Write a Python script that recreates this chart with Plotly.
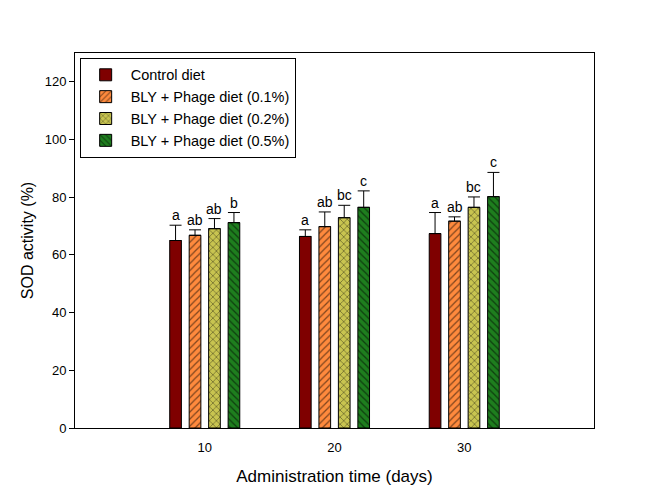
import plotly.graph_objects as go

days = [10, 20, 30]
series_names = ["Control diet", "BLY + Phage diet (0.1%)", "BLY + Phage diet (0.2%)", "BLY + Phage diet (0.5%)"]
control = [65.0, 66.4, 67.4]
bly_01 = [66.8, 69.8, 71.7]
bly_02 = [69.1, 72.9, 76.5]
bly_05 = [71.2, 76.5, 80.2]
err_control = [5.3, 2.3, 7.3]
err_01 = [1.9, 5.1, 1.5]
err_02 = [3.5, 4.3, 3.6]
err_05 = [3.5, 5.7, 8.4]
letters_control = ["a", "a", "a"]
letters_01 = ["ab", "ab", "ab"]
letters_02 = ["ab", "bc", "bc"]
letters_05 = ["b", "c", "c"]

values = [control, bly_01, bly_02, bly_05]
errors = [err_control, err_01, err_02, err_05]
letters = [letters_control, letters_01, letters_02, letters_05]

colors = ["#7F0000", "#FF8A3D", "#C8C450", "#1E7E1E"]
patterns = ["", "/", "x", "\\"]
offsets = [-2.25, -0.75, 0.75, 2.25]
bar_w = 0.9

fig = go.Figure()
for i in range(4):
    fig.add_trace(go.Bar(
        x=days, y=values[i], name=series_names[i],
        width=bar_w, offset=offsets[i] - bar_w / 2,
        marker=dict(color=colors[i], line=dict(color="black", width=1),
                    pattern=dict(shape=patterns[i], fgcolor="black", size=5, solidity=0.25)),
        error_y=dict(type="data", symmetric=False, array=errors[i], arrayminus=[0] * 3,
                     color="black", thickness=1, width=6),
    ))
    for j, d in enumerate(days):
        fig.add_annotation(x=d + offsets[i], y=values[i][j] + errors[i][j], text=letters[i][j],
                           showarrow=False, yanchor="bottom", yshift=0,
                           font=dict(family="Liberation Sans, Arial", size=14, color="black"))

fig.update_layout(
    width=652, height=490,
    margin=dict(l=66.5, r=65.7, t=45.3, b=69.7),
    paper_bgcolor="white", plot_bgcolor="white",
    font=dict(family="Liberation Sans, Arial", size=13, color="black"),
    showlegend=True,
    legend=dict(x=0.009, y=0.987, xanchor="left", yanchor="top",
                bgcolor="white", bordercolor="black", borderwidth=1,
                font=dict(size=14.5), tracegroupgap=0, itemwidth=40),
    xaxis=dict(range=[0, 40], tickvals=days, ticktext=[str(d) for d in days],
               ticks="outside", ticklen=7, tickcolor="rgba(0,0,0,0)",
               showline=True, mirror=True, linecolor="black", linewidth=1, showgrid=False,
               zeroline=False,
               title=dict(text="Administration time (days)", font=dict(size=17), standoff=16)),
    yaxis=dict(range=[0, 130], tickvals=[0, 20, 40, 60, 80, 100, 120], ticks="outside", ticklen=5,
               tickcolor="black", showline=True, mirror=True, linecolor="black", linewidth=1,
               showgrid=False, zeroline=False,
               title=dict(text="SOD activity (%)", font=dict(size=16), standoff=7)),
)

fig.write_html("out.html")
